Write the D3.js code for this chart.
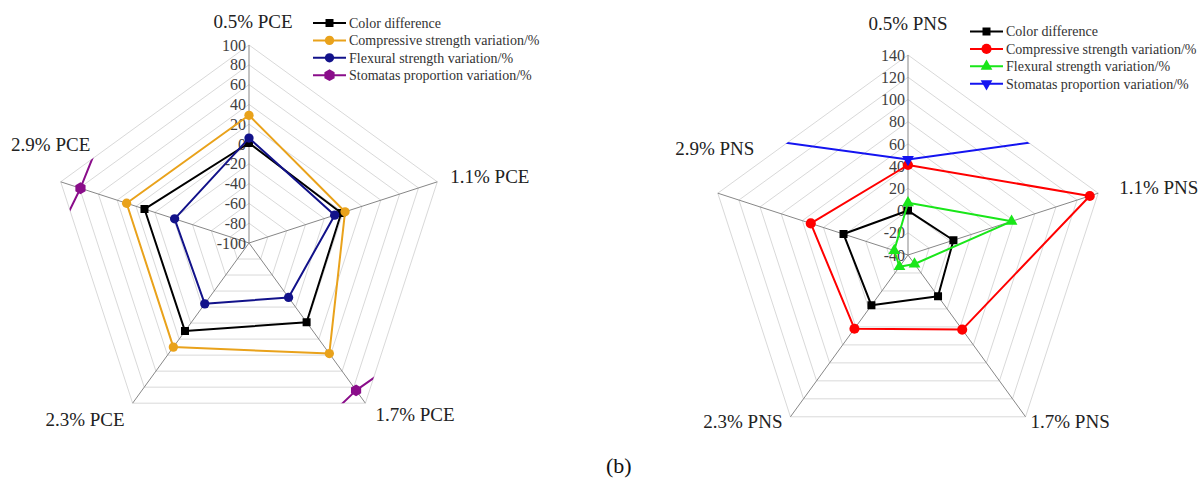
<!DOCTYPE html>
<html>
<head>
<meta charset="utf-8">
<script src="https://cdn.jsdelivr.net/npm/d3@7"></script>
<style>
  body { margin: 0; background: #fff; }
  svg { display: block; }
  text { font-family: "Liberation Serif", "Times New Roman", serif; }
</style>
</head>
<body>
<svg id="chart" width="1198" height="478"></svg>
<script>
// ---- data -------------------------------------------------------------
const seriesNames = [
  "Color difference",
  "Compressive strength variation/%",
  "Flexural strength variation/%",
  "Stomatas proportion variation/%"
];

// panel (a): PCE dosages
const categoriesPCE = ["0.5% PCE", "1.1% PCE", "1.7% PCE", "2.3% PCE", "2.9% PCE"];
const colorDiffPCE   = [1, -2, -1, 10, 11];
const compressivePCE = [29, 2, 38, 30, 30];
const flexuralPCE    = [6, -9, -32, -24, -21];
const stomataPCE     = [380, 528, 84, 930, 79];
const ticksPCE       = [-100, -80, -60, -40, -20, 0, 20, 40, 60, 80, 100];

// panel (b): PNS dosages
const categoriesPNS = ["0.5% PNS", "1.1% PNS", "1.7% PNS", "2.3% PNS", "2.9% PNS"];
const colorDiffPNS   = [0, 3, 6, 16, 21];
const compressivePNS = [41, 132, 43, 42, 52];
const flexuralPNS    = [7, 58, -30, -27, -27];
const stomataPNS     = [46, 442, 300, 320, 442];
const ticksPNS       = [-40, -20, 0, 20, 40, 60, 80, 100, 120, 140];

// ---- marker shapes ----------------------------------------------------
const symbolHexagon = {
  draw(ctx, size) {
    const r = Math.sqrt(size / (1.5 * Math.sqrt(3)));
    for (let i = 0; i < 6; i++) {
      const a = Math.PI / 6 + i * Math.PI / 3;
      const x = r * Math.cos(a), y = r * Math.sin(a);
      if (i === 0) ctx.moveTo(x, y); else ctx.lineTo(x, y);
    }
    ctx.closePath();
  }
};
const symbolTriangleDown = {
  draw(ctx, size) {
    const s = Math.sqrt(size * 4 / Math.sqrt(3));
    const h = s * Math.sqrt(3) / 2;
    ctx.moveTo(0, h * 2 / 3);
    ctx.lineTo(s / 2, -h / 3);
    ctx.lineTo(-s / 2, -h / 3);
    ctx.closePath();
  }
};

// ---- panel definitions --------------------------------------------------
const panels = [
  {
    id: "pce",
    cx: 249, cy: 243, R: 198,
    domain: [-100, 100],
    ticks: ticksPCE,
    categories: categoriesPCE,
    series: [
      { values: colorDiffPCE,   color: "#000000", symbol: d3.symbolSquare, size: 64 },
      { values: compressivePCE, color: "#E9A21B", symbol: d3.symbolCircle, size: 68 },
      { values: flexuralPCE,    color: "#12128A", symbol: d3.symbolCircle, size: 68 },
      { values: stomataPCE,     color: "#8A0D8A", symbol: symbolHexagon,   size: 90 }
    ],
    // label placement relative to each spoke end: [dx, dy, anchor]
    labelPos: [[4, -17, "middle"], [13, 1, "start"], [10, 18, "start"], [-8, 23, "end"], [-10, -31, "middle"]],
    legend: { x: 313, y: 23, step: 17.4 }
  },
  {
    id: "pns",
    cx: 908, cy: 255, R: 200,
    domain: [-40, 140],
    ticks: ticksPNS,
    categories: categoriesPNS,
    series: [
      { values: colorDiffPNS,   color: "#000000", symbol: d3.symbolSquare,   size: 64 },
      { values: compressivePNS, color: "#FF0000", symbol: d3.symbolCircle,   size: 80 },
      { values: flexuralPNS,    color: "#19E619", symbol: d3.symbolTriangle, size: 60 },
      { values: stomataPNS,     color: "#1414F0", symbol: symbolTriangleDown, size: 60 }
    ],
    labelPos: [[0, -25, "middle"], [21, 1, "start"], [5, 11, "start"], [-8, 11, "end"], [-3, -38, "middle"]],
    legend: { x: 970, y: 31.5, step: 17.4 }
  }
];

const svg = d3.select("#chart");
const defs = svg.append("defs");
const N = 5;
const angle = i => i * 2 * Math.PI / N;           // 0 = 12 o'clock, clockwise
const px = (r, i) => r * Math.sin(angle(i));
const py = (r, i) => -r * Math.cos(angle(i));
const ringPoints = r => d3.range(N).map(i => [px(r, i), py(r, i)].join(",")).join(" ");

panels.forEach(p => {
  const rScale = d3.scaleLinear().domain(p.domain).range([0, p.R]);
  const g = svg.append("g").attr("transform", `translate(${p.cx},${p.cy})`);

  // series are clipped to the outer ring of the plot area
  const clipId = `plot-area-${p.id}`;
  defs.append("clipPath").attr("id", clipId)
    .append("polygon")
    .attr("transform", `translate(${p.cx},${p.cy})`)
    .attr("points", ringPoints(p.R));

  // grid rings
  const ringVals = p.ticks.slice(1);
  g.append("g").selectAll("polygon").data(ringVals).join("polygon")
    .attr("points", v => ringPoints(rScale(v)))
    .attr("fill", "none")
    .attr("stroke", "#d9d9d9")
    .attr("stroke-width", 1);

  // spokes
  g.append("g").selectAll("line").data(d3.range(N)).join("line")
    .attr("x1", 0).attr("y1", 0)
    .attr("x2", i => px(p.R, i)).attr("y2", i => py(p.R, i))
    .attr("stroke", "#878787")
    .attr("stroke-width", 1);

  // radial tick labels on the vertical spoke
  g.append("g").selectAll("text").data(p.ticks).join("text")
    .attr("x", -3)
    .attr("y", v => -rScale(v))
    .attr("dy", "0.35em")
    .attr("text-anchor", "end")
    .attr("font-size", 16)
    .attr("fill", "#404040")
    .text(v => v);

  // category labels
  g.append("g").selectAll("text").data(p.categories).join("text")
    .attr("x", (d, i) => px(p.R, i) + p.labelPos[i][0])
    .attr("y", (d, i) => py(p.R, i) + p.labelPos[i][1])
    .attr("text-anchor", (d, i) => p.labelPos[i][2])
    .attr("font-size", 19)
    .attr("fill", "#222")
    .text(d => d);

  // series
  const radial = d3.lineRadial()
    .angle((d, i) => angle(i))
    .radius(d => rScale(d))
    .curve(d3.curveLinearClosed);

  const seriesLayer = svg.append("g").attr("clip-path", `url(#${clipId})`)
    .append("g").attr("transform", `translate(${p.cx},${p.cy})`);

  p.series.forEach(s => {
    const sg = seriesLayer.append("g");
    sg.append("path")
      .attr("d", radial(s.values))
      .attr("fill", "none")
      .attr("stroke", s.color)
      .attr("stroke-width", 2)
      .attr("stroke-linejoin", "round");
    sg.selectAll("path.m").data(s.values).join("path")
      .attr("class", "m")
      .attr("transform", (d, i) => `translate(${px(rScale(d), i)},${py(rScale(d), i)})`)
      .attr("d", d3.symbol().type(s.symbol).size(s.size))
      .attr("fill", s.color);
  });

  // legend
  const lg = svg.append("g").attr("transform", `translate(${p.legend.x},${p.legend.y})`);
  p.series.forEach((s, si) => {
    const row = lg.append("g").attr("transform", `translate(0,${si * p.legend.step})`);
    row.append("line").attr("x1", 0).attr("x2", 33).attr("y1", 0).attr("y2", 0)
      .attr("stroke", s.color).attr("stroke-width", 2);
    row.append("path").attr("transform", "translate(16.5,0)")
      .attr("d", d3.symbol().type(s.symbol).size(s.size))
      .attr("fill", s.color);
    row.append("text").attr("x", 36).attr("y", 0).attr("dy", "0.35em")
      .attr("font-size", 14).attr("fill", "#333")
      .text(seriesNames[si]);
  });
});

// panel caption
svg.append("text")
  .attr("x", 606).attr("y", 473)
  .attr("font-family", "'Liberation Sans', Arial, sans-serif")
  .attr("font-size", 22)
  .attr("fill", "#111")
  .text("(b)");
</script>
</body>
</html>
